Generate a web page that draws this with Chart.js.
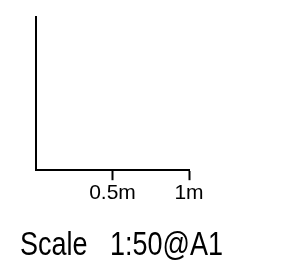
<!DOCTYPE html>
<html>
<head>
<meta charset="utf-8">
<script src="https://cdn.jsdelivr.net/npm/chart.js@4/dist/chart.umd.min.js"></script>
<style>
    html, body { margin: 0; padding: 0; background: #ffffff; }
    #wrap { width: 286px; height: 270px; }
</style>
</head>
<body>
<div id="wrap"><canvas id="scaleChart"></canvas></div>
<script>
// scale bar ticks (metres) and their labels
const tickValues = [0.5, 1];
const tickLabels = ["0.5m", "1m"];
const scaleText = "Scale   1:50@A1";

function setScaleChart() {
    const ctx = document.getElementById("scaleChart").getContext("2d");

    new Chart(ctx, {
        type: "scatter",
        data: {
            datasets: [{ data: [] }],
        },
        options: {
            responsive: true,
            maintainAspectRatio: false,
            animation: false,
            layout: {
                // title box is 20..223, so the title gets squeezed a little like the CAD font
                padding: { left: 20, right: 63, top: 17, bottom: 0 },
            },
            plugins: {
                legend: { display: false },
                tooltip: { enabled: false },
                title: {
                    display: true,
                    position: "bottom",
                    align: "start",
                    text: scaleText,
                    color: "#000000",
                    font: { family: "Liberation Sans", size: 33, weight: "normal" },
                    padding: { top: 21, bottom: 4 },
                },
            },
            scales: {
                x: {
                    type: "linear",
                    min: 0,
                    max: 1,
                    afterBuildTicks: scale => {
                        scale.ticks = tickValues.map(v => ({ value: v }));
                    },
                    ticks: {
                        color: "#000000",
                        padding: 0,
                        maxRotation: 0,
                        font: { family: "Liberation Sans", size: 21 },
                        callback: value => tickLabels[tickValues.indexOf(value)],
                    },
                    grid: {
                        drawOnChartArea: false,
                        drawTicks: true,
                        tickLength: 10,
                        tickWidth: 2,
                        tickColor: "#000000",
                    },
                    border: { display: true, color: "#000000", width: 2 },
                },
                y: {
                    min: 0,
                    max: 1,
                    afterFit: scale => {
                        scale.width = 16;
                    },
                    ticks: { display: false },
                    grid: { display: false },
                    border: { display: true, color: "#000000", width: 2 },
                },
                // empty right-hand space so the bar ends at x=189
                yRight: {
                    position: "right",
                    min: 0,
                    max: 1,
                    afterFit: scale => {
                        scale.width = 34;
                    },
                    ticks: { display: false },
                    grid: { display: false },
                    border: { display: false },
                },
            },
        },
    });
}

document.addEventListener("DOMContentLoaded", function () {
    setScaleChart();
});
</script>
</body>
</html>
